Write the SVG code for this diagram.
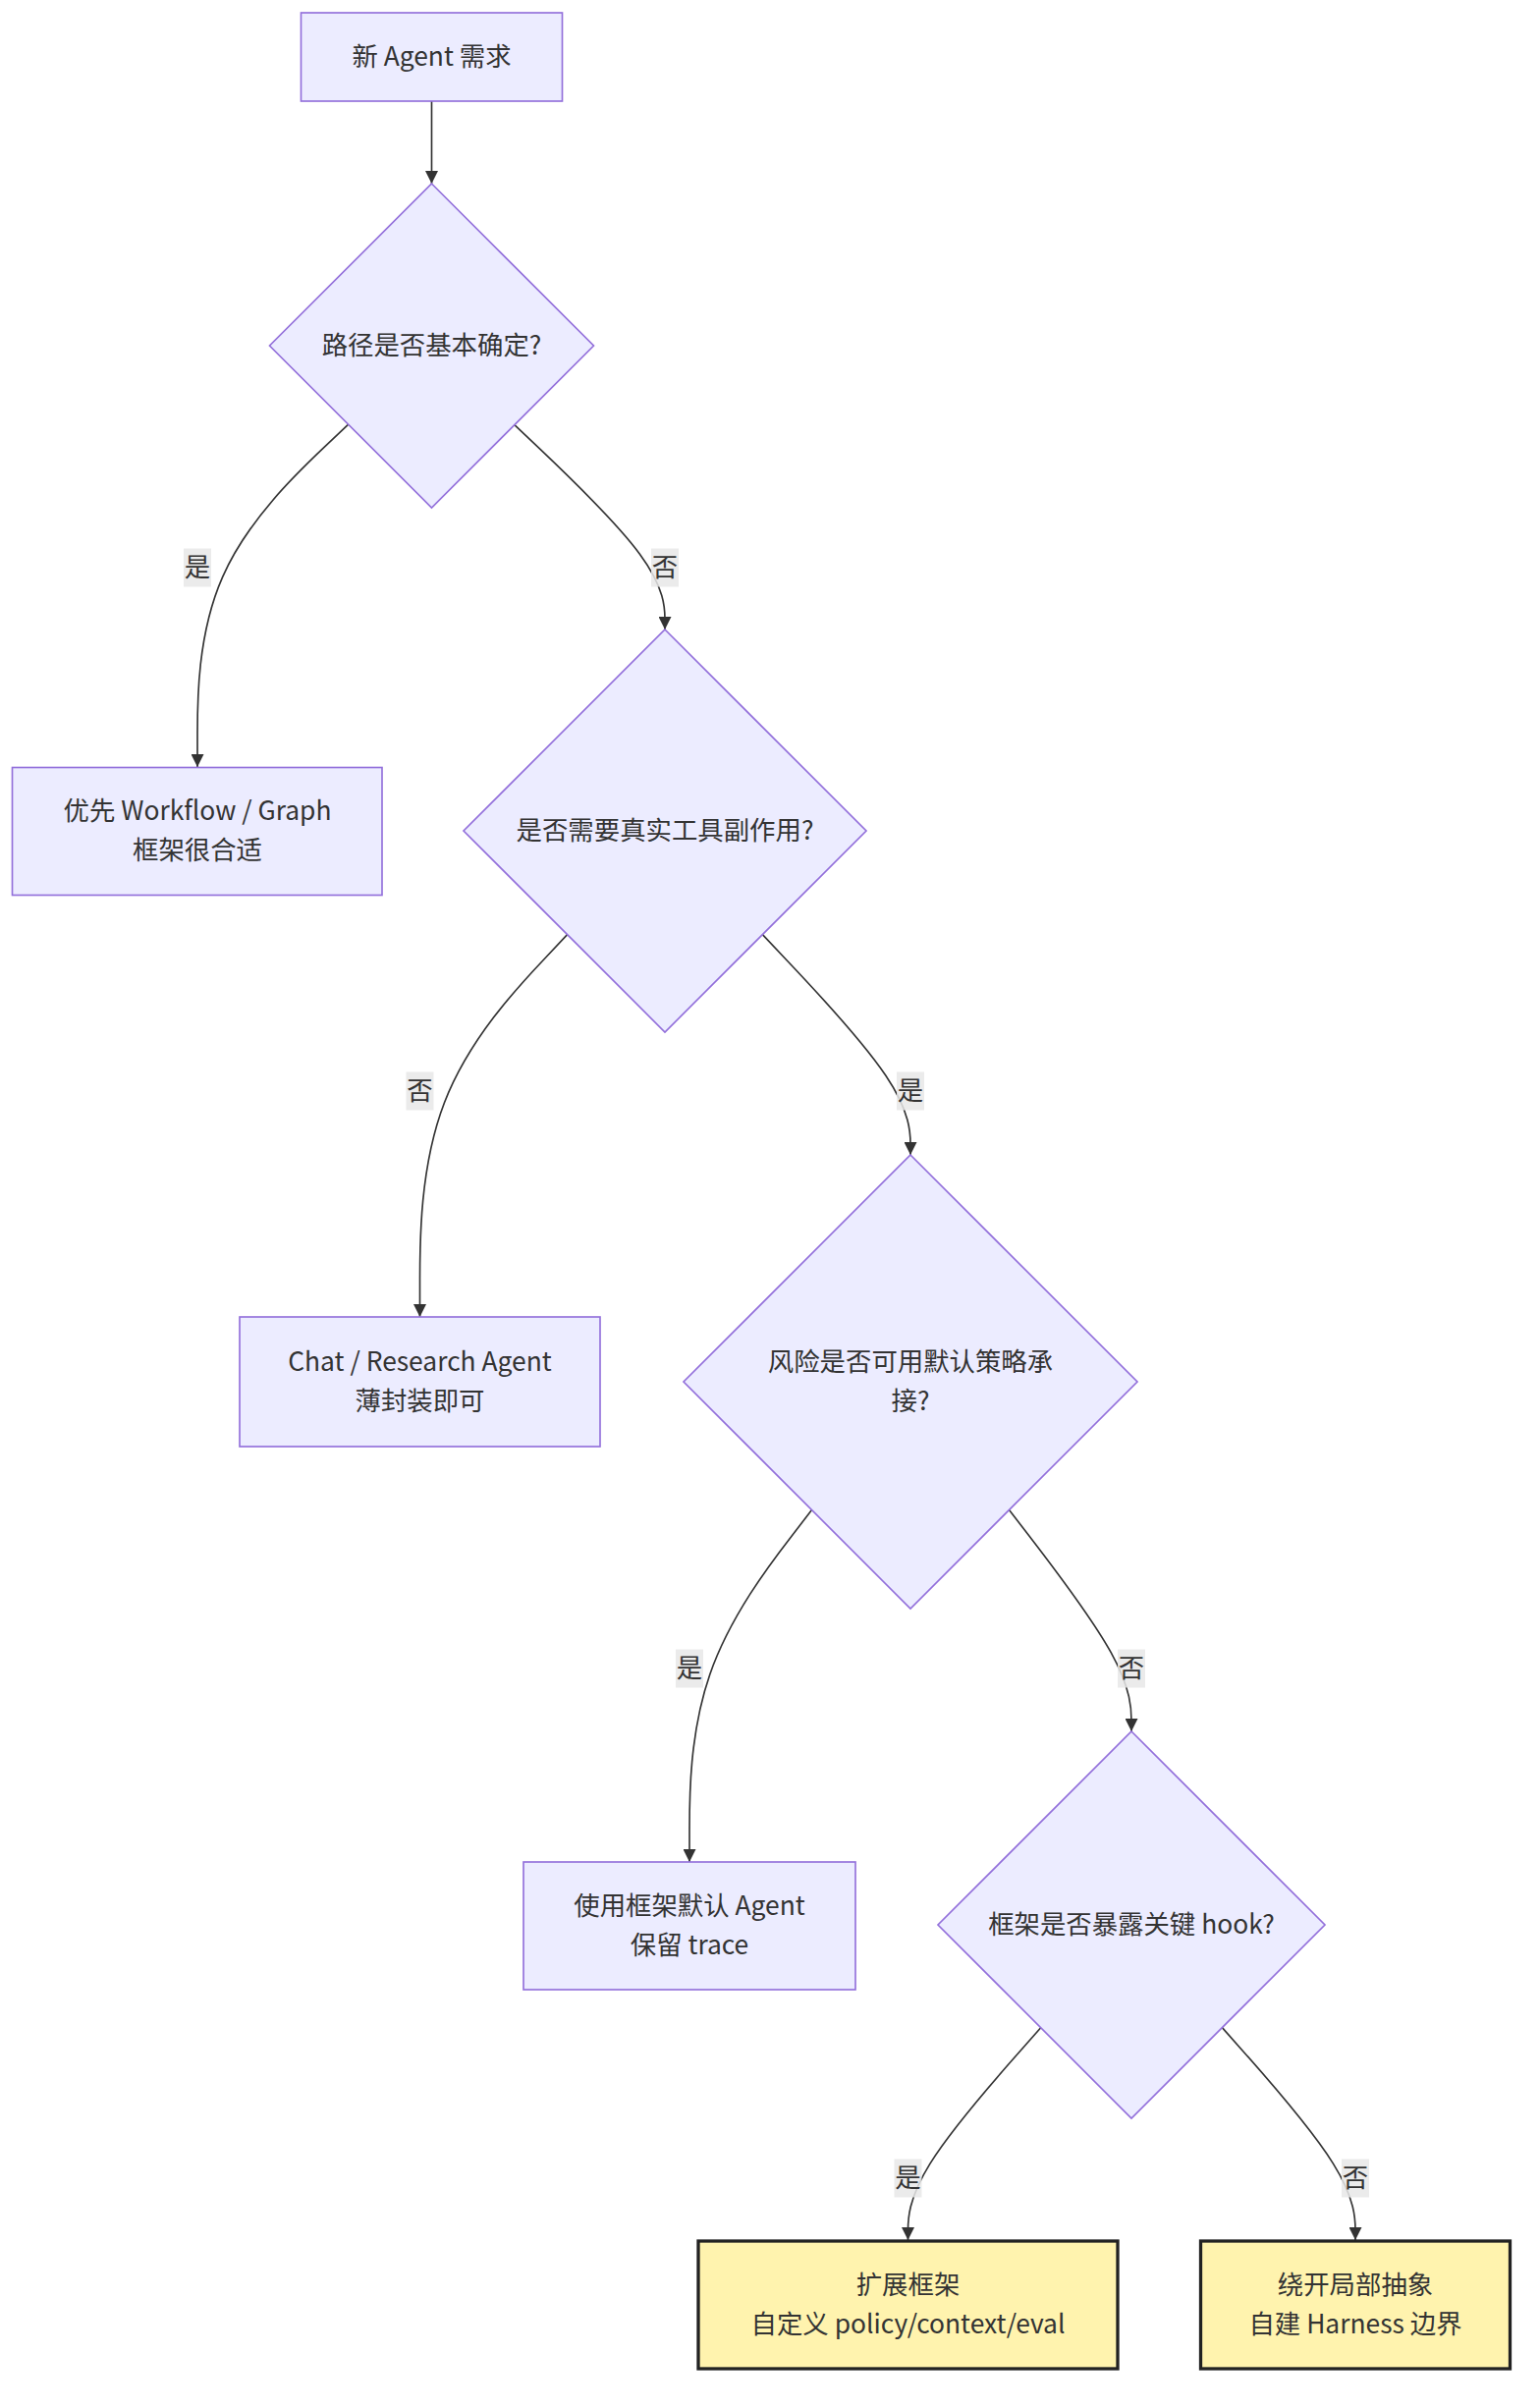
<svg xmlns="http://www.w3.org/2000/svg" width="1568" height="2452" viewBox="0 0 1568 2452">
<defs>
<style>
.node rect,.node polygon{fill:#ECECFF;stroke:#9370DB;stroke-width:1.65}
.node.hl rect{fill:#FFF3AE;stroke:#222;stroke-width:3.3}
text{font-family:"Noto Sans CJK SC","Noto Sans",sans-serif;font-size:26.4px;fill:#333;text-anchor:middle;dominant-baseline:central}
.edge path{fill:none;stroke:#333;stroke-width:1.65}
.lbl rect{fill:#e8e8e8;opacity:0.85}
</style>
<marker id="arr" viewBox="0 0 10 10" refX="10" refY="5" markerWidth="13" markerHeight="13" markerUnits="userSpaceOnUse" orient="auto">
<path d="M0,0 L10,5 L0,10 z" fill="#333"/>
</marker>
</defs>
<rect width="1568" height="2452" fill="#fff"/>
<g id="edges" class="edge">
<path marker-end="url(#arr)" d="M439.5,103 L439.5,187"/>
<path marker-end="url(#arr)" d="M354.4,432.4 L328.8,456.7 C303.3,480.9 252.1,529.5 226.6,587.6 C201,645.7 201,713.3 201,747.2 L201,781"/>
<path marker-end="url(#arr)" d="M523.6,432.4 L549.2,456.7 C574.7,480.9 625.9,529.5 651.4,564.2 C677,599 677,620 677,630.5 L677,641"/>
<path marker-end="url(#arr)" d="M577.6,951.6 L552.6,978.2 C527.6,1004.7 477.5,1057.9 452.5,1122.8 C427.5,1187.7 427.5,1264.3 427.5,1302.7 L427.5,1341"/>
<path marker-end="url(#arr)" d="M776.4,951.6 L801.5,978.2 C826.6,1004.7 876.8,1057.9 901.9,1095.3 C927,1132.7 927,1154.3 927,1165.2 L927,1176"/>
<path marker-end="url(#arr)" d="M826.5,1537.5 L805.8,1564.4 C785,1591.3 743.5,1645.2 722.8,1704.9 C702,1764.7 702,1830.3 702,1863.2 L702,1896"/>
<path marker-end="url(#arr)" d="M1027.5,1537.5 L1048.3,1564.4 C1069,1591.3 1110.5,1645.2 1131.3,1682.8 C1152,1720.3 1152,1741.7 1152,1752.3 L1152,1763"/>
<path marker-end="url(#arr)" d="M1059.7,2064.7 L1037.2,2090.3 C1014.6,2115.8 969.6,2166.9 947,2203.1 C924.5,2239.3 924.5,2260.7 924.5,2271.3 L924.5,2281"/>
<path marker-end="url(#arr)" d="M1244.4,2064.6 L1267,2090.2 C1289.6,2115.7 1334.8,2166.9 1357.4,2203.1 C1380,2239.3 1380,2260.7 1380,2271.3 L1380,2281"/>
</g>
<g id="edge-labels" class="lbl">
<g><rect x="187" y="558.5" width="28" height="39"/><text x="201" y="575">是</text></g>
<g><rect x="663" y="558.5" width="28" height="39"/><text x="677" y="575">否</text></g>
<g><rect x="413.5" y="1091.5" width="28" height="39"/><text x="427.5" y="1108">否</text></g>
<g><rect x="913" y="1091.5" width="28" height="39"/><text x="927" y="1108">是</text></g>
<g><rect x="688" y="1679.5" width="28" height="39"/><text x="702" y="1696">是</text></g>
<g><rect x="1138" y="1679.5" width="28" height="39"/><text x="1152" y="1696">否</text></g>
<g><rect x="910.5" y="2198.5" width="28" height="39"/><text x="924.5" y="2215">是</text></g>
<g><rect x="1366" y="2198.5" width="28" height="39"/><text x="1380" y="2215">否</text></g>
</g>
<g id="nodeA" class="node"><rect x="306.5" y="13" width="266" height="90"/><text x="439.5" y="55">新 Agent 需求</text></g>
<g id="nodeB" class="node"><polygon points="439.5,187 604.5,352 439.5,517 274.5,352"/><text x="439.5" y="349">路径是否基本确定?</text></g>
<g id="nodeC" class="node"><rect x="12.5" y="781.5" width="376.5" height="130"/><text x="201" y="823.5">优先 Workflow / Graph</text><text x="201" y="863.5">框架很合适</text></g>
<g id="nodeD" class="node"><polygon points="677,641 882,846 677,1051 472,846"/><text x="677" y="843">是否需要真实工具副作用?</text></g>
<g id="nodeE" class="node"><rect x="244" y="1341" width="367" height="132"/><text x="427.5" y="1384">Chat / Research Agent</text><text x="427.5" y="1424">薄封装即可</text></g>
<g id="nodeF" class="node"><polygon points="927,1176 1158,1407 927,1638 696,1407"/><text x="927" y="1384">风险是否可用默认策略承</text><text x="927" y="1424">接?</text></g>
<g id="nodeG" class="node"><rect x="533" y="1896" width="338" height="130"/><text x="702" y="1938">使用框架默认 Agent</text><text x="702" y="1978">保留 trace</text></g>
<g id="nodeH" class="node"><polygon points="1152,1763 1349,1960 1152,2157 955,1960"/><text x="1152" y="1957">框架是否暴露关键 hook?</text></g>
<g id="nodeI" class="node hl"><rect x="711" y="2282" width="427" height="130"/><text x="924.5" y="2324">扩展框架</text><text x="924.5" y="2364">自定义 policy/context/eval</text></g>
<g id="nodeJ" class="node hl"><rect x="1222.5" y="2282" width="315" height="130"/><text x="1380" y="2324">绕开局部抽象</text><text x="1380" y="2364">自建 Harness 边界</text></g>
</svg>
